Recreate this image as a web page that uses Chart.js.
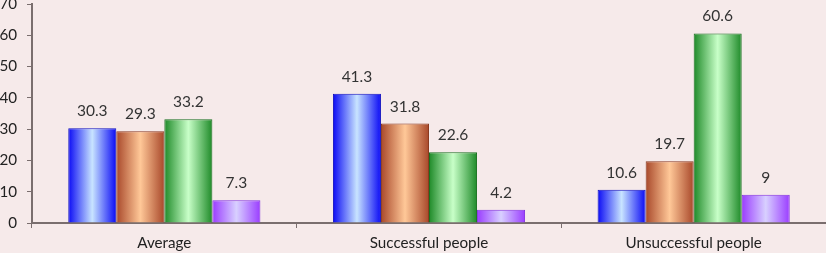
<!DOCTYPE html>
<html>
<head>
<meta charset="utf-8">
<script src="https://cdn.jsdelivr.net/npm/chart.js@4"></script>
<style>
  html, body { margin: 0; padding: 0; background: #f6eaea; }
  #wrap { width: 826px; height: 253px; }
</style>
</head>
<body>
<div id="wrap"><canvas id="chart-area" width="826" height="253"></canvas></div>
<script>
  var categories = ['Average', 'Successful people', 'Unsuccessful people'];
  var series1 = [30.3, 41.3, 10.6];
  var series2 = [29.3, 31.8, 19.7];
  var series3 = [33.2, 22.6, 60.6];
  var series4 = [7.3, 4.2, 9];

  // edge colour, centre colour, border
  var shades = [
    ['#0a0af5', '#c8e4ff', '#1010c0'],
    ['#a8482a', '#ffc898', '#8a3a20'],
    ['#1e8a28', '#c8ffc8', '#1a7020'],
    ['#9a3cff', '#d8d0ff', '#8030e0']
  ];

  function edge(ctx) { return shades[ctx.datasetIndex][0]; }

  var gradientBars = {
    id: 'gradientBars',
    beforeDatasetsDraw: function(chart) {
      var c = chart.ctx;
      chart.data.datasets.forEach(function(ds, i) {
        chart.getDatasetMeta(i).data.forEach(function(bar) {
          var l = bar.x - bar.width / 2, r = bar.x + bar.width / 2;
          var g = c.createLinearGradient(l, 0, r, 0);
          g.addColorStop(0, shades[i][0]);
          g.addColorStop(0.5, shades[i][1]);
          g.addColorStop(1, shades[i][0]);
          bar.options.backgroundColor = g;
        });
      });
    }
  };

  var valueLabels = {
    id: 'valueLabels',
    afterDatasetsDraw: function(chart) {
      var c = chart.ctx;
      c.save();
      c.font = '15.5px Lato';
      c.fillStyle = '#333';
      c.textAlign = 'center';
      c.textBaseline = 'middle';
      chart.data.datasets.forEach(function(ds, i) {
        chart.getDatasetMeta(i).data.forEach(function(bar, j) {
          c.fillText(String(ds.data[j]), bar.x, bar.y - 17);
        });
      });
      c.restore();
    }
  };

  var config = {
    type: 'bar',
    data: {
      labels: categories,
      datasets: [
        { data: series1 },
        { data: series2 },
        { data: series3 },
        { data: series4 }
      ].map(function(d, i) {
        d.backgroundColor = edge;
        d.borderColor = shades[i][2];
        d.borderWidth = { top: 1, left: 1, right: 1, bottom: 0 };
        d.categoryPercentage = 0.726;
        d.barPercentage = 1;
        return d;
      })
    },
    options: {
      responsive: false,
      animation: false,
      layout: { padding: { top: 4, right: 0, left: 0, bottom: 0 } },
      plugins: { legend: { display: false }, tooltip: { enabled: false } },
      scales: {
        x: {
          grid: { display: true, drawOnChartArea: false, offset: true, tickLength: 5, color: '#7a6e6e' },
          border: { color: '#7a6e6e', width: 2 },
          ticks: { color: '#222', font: { family: 'Lato', size: 15.2 }, padding: 6 },
          afterFit: function(s) { s.height = 30; s.paddingLeft = 0; s.paddingRight = 0; }
        },
        y: {
          min: 0, max: 70,
          grid: { display: true, drawOnChartArea: false, tickLength: 5, color: '#7a6e6e' },
          border: { color: '#7a6e6e', width: 2 },
          ticks: { stepSize: 10, color: '#222', font: { family: 'Lato', size: 15.2 }, padding: 10 },
          afterFit: function(s) { s.width = 32; s.paddingTop = 0; s.paddingBottom = 0; }
        }
      }
    },
    plugins: [gradientBars, valueLabels]
  };

  var ctx = document.getElementById('chart-area').getContext('2d');
  window.myBar = new Chart(ctx, config);
</script>
</body>
</html>
